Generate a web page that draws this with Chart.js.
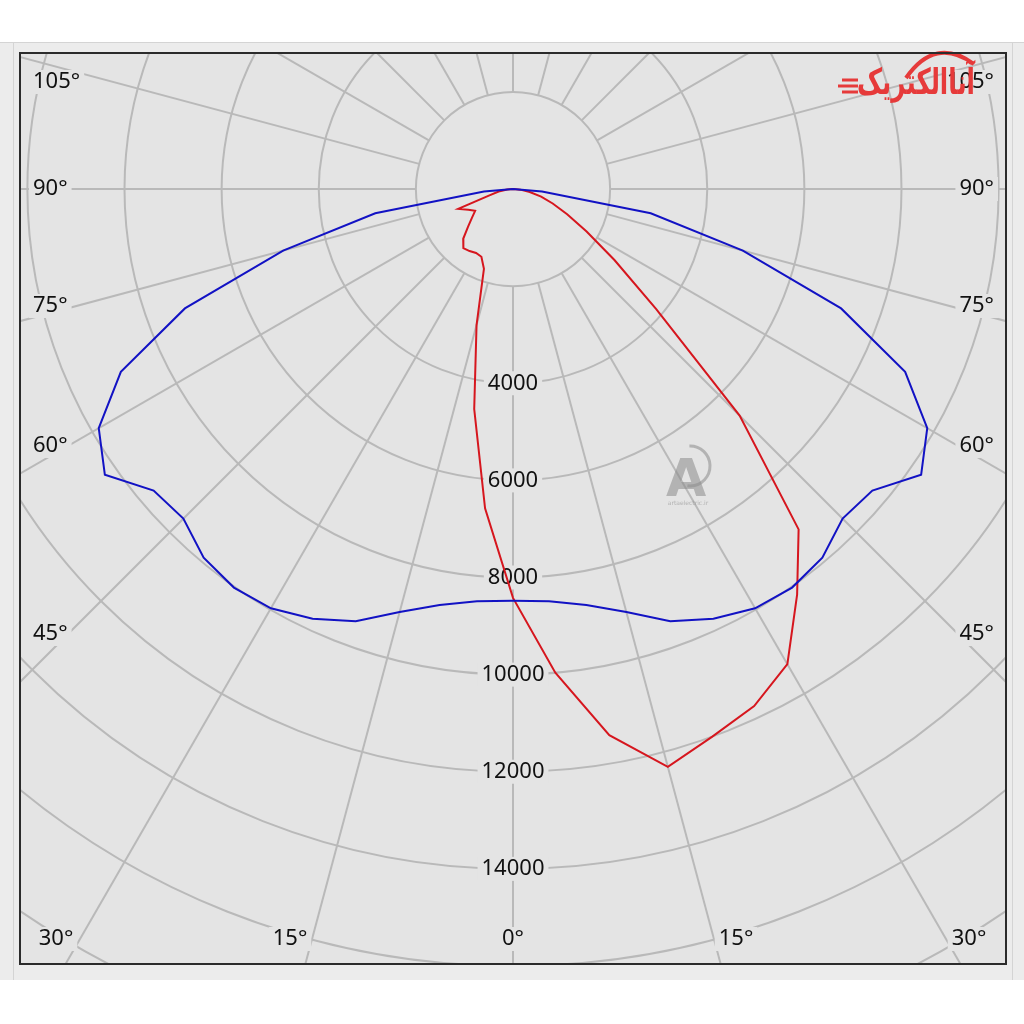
<!DOCTYPE html>
<html>
<head>
<meta charset="utf-8">
<script src="https://cdn.jsdelivr.net/npm/chart.js@4.4.0/dist/chart.umd.min.js"></script>
<style>
  html, body { margin: 0; padding: 0; background: #fff; }
  #wrap { width: 1024px; height: 1024px; }
</style>
</head>
<body>
<div id="wrap"><canvas id="polar" width="1024" height="1024"></canvas></div>
<script>
// gamma angle in degrees, measured from straight down (0°) to horizontal (90°)
const gammas = [0, 5, 10, 15, 20, 25, 30, 35, 40, 45, 50, 55, 60, 65, 70, 75, 80, 85, 90];
// cd values
const blueC0C180 = [8480, 8520, 8700, 9020, 9470, 9765, 9970, 10020, 9910, 9600, 9660, 10260, 9850, 8910, 7190, 4900, 2880, 600, 0];
const redC90 = [8420, 10000, 11420, 12320, 12000, 11750, 11300, 10200, 9150, 6600, 3850, 2550, 1750, 1230, 870, 600, 350, 150, 0];
const redC270 = [8420, 6600, 4600, 2900, 1750, 1540, 1520, 1560, 1590, 1450, 1210, 1030, 900, 1015, 1200, 490, 300, 120, 0];

const rings = [2000, 4000, 6000, 8000, 10000, 12000, 14000, 16000, 18000, 20000];
const ringLabels = ['4000', '6000', '8000', '10000', '12000', '14000'];
const spokes = [0, 15, 30, 45, 60, 75, 90, 105, 120, 135, 150, 165, 180];
const sideLabels = ['105°', '90°', '75°', '60°', '45°'];
const bottomLabels = ['30°', '15°', '0°', '15°', '30°'];

// polar (gamma, cd) -> chart x/y, left half first then right half
function toXY(leftVals, rightVals) {
  const pts = [];
  for (let i = gammas.length - 1; i >= 0; i--) {
    const g = gammas[i] * Math.PI / 180;
    pts.push({ x: -leftVals[i] * Math.sin(g), y: -leftVals[i] * Math.cos(g) });
  }
  for (let i = 1; i < gammas.length; i++) {
    const g = gammas[i] * Math.PI / 180;
    pts.push({ x: rightVals[i] * Math.sin(g), y: -rightVals[i] * Math.cos(g) });
  }
  return pts;
}

const PLOT_BG = '#e4e4e4';

function tag(ctx, text, x, y, align) {
  const w = ctx.measureText(text).width;
  const left = align === 'left' ? x : align === 'right' ? x - w : x - w / 2;
  ctx.fillStyle = PLOT_BG;
  ctx.fillRect(left - 4, y - 12, w + 8, 24);
  ctx.fillStyle = '#111';
  ctx.textAlign = align;
  ctx.fillText(text, x, y);
}

const polarGrid = {
  id: 'polarGrid',
  beforeDraw(chart) {
    const ctx = chart.ctx;
    ctx.save();
    ctx.fillStyle = '#ffffff';
    ctx.fillRect(0, 0, chart.width, chart.height);
    ctx.fillStyle = '#ececec';
    ctx.fillRect(0, 42, chart.width, 938);
    ctx.strokeStyle = '#d4d4d4';
    ctx.lineWidth = 1;
    ctx.beginPath();
    ctx.moveTo(0, 42.5); ctx.lineTo(chart.width, 42.5);
    ctx.moveTo(13.5, 42); ctx.lineTo(13.5, 980);
    ctx.moveTo(1012.5, 42); ctx.lineTo(1012.5, 980);
    ctx.stroke();
    ctx.restore();
  },
  beforeDatasetsDraw(chart) {
    const { ctx, chartArea: a, scales: { x, y } } = chart;
    const cx = x.getPixelForValue(0), cy = y.getPixelForValue(0);
    const k = x.getPixelForValue(1) - cx;
    ctx.save();
    ctx.beginPath();
    ctx.rect(a.left, a.top, a.width, a.height);
    ctx.clip();
    ctx.fillStyle = PLOT_BG;
    ctx.fillRect(a.left, a.top, a.width, a.height);

    ctx.strokeStyle = '#b9b9b9';
    ctx.lineWidth = 2;
    rings.forEach(v => {
      ctx.beginPath();
      ctx.arc(cx, cy, v * k, 0, Math.PI * 2);
      ctx.stroke();
    });
    const r0 = rings[0] * k, r1 = 30000 * k;
    spokes.forEach(g => {
      const rad = g * Math.PI / 180;
      [1, -1].forEach(s => {
        const dx = s * Math.sin(rad), dy = Math.cos(rad);
        ctx.beginPath();
        ctx.moveTo(cx + dx * r0, cy + dy * r0);
        ctx.lineTo(cx + dx * r1, cy + dy * r1);
        ctx.stroke();
      });
    });

    ctx.font = '22px "Noto Sans"';
    ctx.textBaseline = 'middle';
    ringLabels.forEach(t => tag(ctx, t, cx, cy + Number(t) * k, 'center'));

    const sideDy = [-107, 0, 117, 257, 445];
    sideLabels.forEach((t, i) => {
      tag(ctx, t, a.left + 13, cy + sideDy[i], 'left');
      tag(ctx, t, a.right - 12, cy + sideDy[i], 'right');
    });
    const bottomDx = [-457, -223, 0, 223, 456];
    bottomLabels.forEach((t, i) => tag(ctx, t, cx + bottomDx[i], a.bottom - 25, 'center'));
    ctx.restore();
  },
  afterDatasetsDraw(chart) {
    const { ctx, chartArea: a } = chart;
    ctx.save();
    // faint centre watermark
    ctx.globalAlpha = 0.55;
    ctx.fillStyle = '#8a8a8a';
    ctx.strokeStyle = '#8a8a8a';
    ctx.font = 'bold 52px "DejaVu Sans"';
    ctx.textAlign = 'center';
    ctx.textBaseline = 'alphabetic';
    ctx.fillText('A', 686, 496);
    ctx.lineWidth = 3;
    ctx.beginPath();
    ctx.arc(690, 466, 20, -1.6, 1.7);
    ctx.stroke();
    ctx.font = '6px "DejaVu Sans"';
    ctx.fillText('artaelectric.ir', 688, 505);
    ctx.globalAlpha = 1;

    // logo, top right
    ctx.fillStyle = '#e63a3a';
    ctx.strokeStyle = '#e63a3a';
    ctx.font = 'bold 36px "DejaVu Sans"';
    const logo = 'آناالکتریک';
    const w = ctx.measureText(logo).width;
    ctx.save();
    ctx.translate(975, 94);
    ctx.scale(118 / w, 1);
    ctx.textAlign = 'right';
    ctx.fillText(logo, 0, 0);
    ctx.restore();
    ctx.lineWidth = 4;
    ctx.beginPath();
    ctx.moveTo(906, 78);
    ctx.quadraticCurveTo(935, 36, 974, 64);
    ctx.stroke();
    ctx.lineWidth = 3;
    ctx.beginPath();
    ctx.moveTo(842, 80); ctx.lineTo(858, 80);
    ctx.moveTo(838, 86); ctx.lineTo(858, 86);
    ctx.moveTo(842, 92); ctx.lineTo(858, 92);
    ctx.stroke();

    // frame
    ctx.strokeStyle = '#2b2b2b';
    ctx.lineWidth = 2;
    ctx.strokeRect(a.left, a.top, a.width, a.height);
    ctx.restore();
  }
};

new Chart(document.getElementById('polar').getContext('2d'), {
  type: 'scatter',
  data: {
    datasets: [
      {
        label: 'C0-C180',
        data: toXY(blueC0C180, blueC0C180),
        showLine: true,
        borderColor: '#1212c4',
        borderWidth: 2,
        pointRadius: 0,
        tension: 0
      },
      {
        label: 'C90-C270',
        data: toXY(redC270, redC90),
        showLine: true,
        borderColor: '#d6161e',
        borderWidth: 2,
        pointRadius: 0,
        tension: 0
      }
    ]
  },
  options: {
    responsive: false,
    animation: false,
    events: [],
    layout: { padding: { left: 20, top: 53, right: 18, bottom: 60 } },
    plugins: { legend: { display: false }, tooltip: { enabled: false } },
    scales: {
      x: { type: 'linear', display: false, min: -10152, max: 10152 },
      y: { type: 'linear', display: false, min: -15960, max: 2801 }
    }
  },
  plugins: [polarGrid]
});
</script>
</body>
</html>
